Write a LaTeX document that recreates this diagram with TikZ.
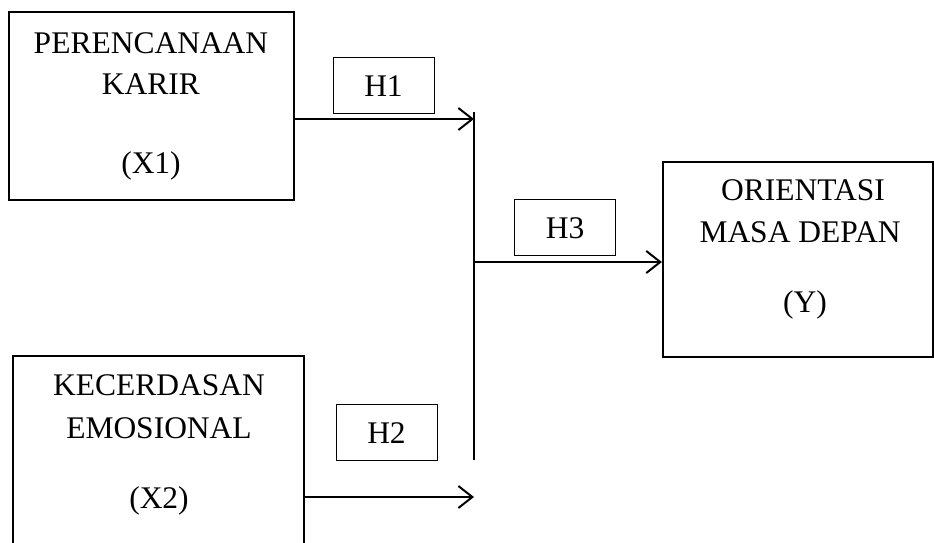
\documentclass[tikz,border=0pt]{standalone}
\usepackage{fontspec}
\setmainfont{Liberation Serif}
\usetikzlibrary{arrows.meta}
\begin{document}
\begin{tikzpicture}[x=1pt,y=-1pt,
  bigbox/.style={draw, line width=2.2pt, inner sep=0pt},
  hbox/.style={draw, line width=0.9pt, inner sep=0pt, minimum width=101pt, minimum height=56pt},
  txt/.style={anchor=base, inner sep=0pt, font=\fontsize{31.5}{36}\selectfont},
  conn/.style={line width=2pt, -{Straight Barb[length=14pt,width=22pt,line width=2pt]}},
  plain/.style={line width=2pt}]
\clip (0,0) rectangle (934,542);
\fill[white] (0,0) rectangle (934,542);
% main boxes
\node[bigbox, minimum width=285pt, minimum height=188pt] (x1) at (151.5,106) {};
\node[bigbox, minimum width=291pt, minimum height=210pt] (x2) at (158.5,461) {};
\node[bigbox, minimum width=270pt, minimum height=195pt] (y) at (798,259.5) {};
% texts
\node[txt] (x1a) at (151,53) {PERENCANAAN};
\node[txt] (x1b) at (151,94) {KARIR};
\node[txt] (x1c) at (151,173) {(X1)};
\node[txt] (x2a) at (159,395) {KECERDASAN};
\node[txt] (x2b) at (159,438) {EMOSIONAL};
\node[txt] (x2c) at (159,508) {(X2)};
\node[txt] (ya) at (803,200) {ORIENTASI};
\node[txt] (yb) at (800,242) {MASA DEPAN};
\node[txt] (yc) at (805,312) {(Y)};
% hypothesis boxes
\node[hbox] (h1) at (383.5,85) {};
\node[txt] (h1t) at (383.5,96) {H1};
\node[hbox] (h2) at (386.5,432) {};
\node[txt] (h2t) at (386.5,443) {H2};
\node[hbox] (h3) at (565,227) {};
\node[txt] (h3t) at (565,238) {H3};
% connectors
\coordinate (vtop) at (474,112);
\coordinate (vbot) at (474,460);
\coordinate (e1) at (474,119);
\coordinate (e2) at (474,497);
\coordinate (s3) at (475,262);
\draw[plain] (vtop) -- (vbot);
\draw[conn] (x1.east |- e1) -- (e1);
\draw[conn] (x2.east |- e2) -- (e2);
\draw[conn] (s3) -- (y.west |- s3);
\end{tikzpicture}
\end{document}
